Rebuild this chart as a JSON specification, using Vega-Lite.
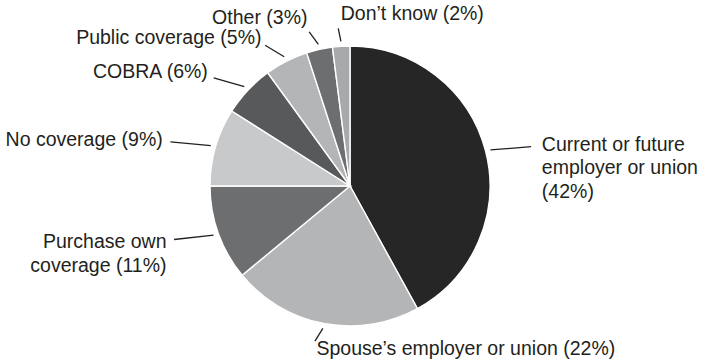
{
  "$schema": "https://vega.github.io/schema/vega-lite/v6.json",
  "width": 700,
  "height": 352,
  "autosize": {"type": "none"},
  "padding": {"left": 0, "top": 10, "right": 9, "bottom": 0},
  "background": "white",
  "config": {"view": {"stroke": null}},
  "data": {
    "values": [
      {"order": 1, "category": "Current or future employer or union", "label": "Current or future\nemployer or union\n(42%)", "pct": 42},
      {"order": 2, "category": "Spouse’s employer or union", "label": "Spouse’s employer or union (22%)", "pct": 22},
      {"order": 3, "category": "Purchase own coverage", "label": "Purchase own\ncoverage (11%)", "pct": 11},
      {"order": 4, "category": "No coverage", "label": "No coverage (9%)", "pct": 9},
      {"order": 5, "category": "COBRA", "label": "COBRA (6%)", "pct": 6},
      {"order": 6, "category": "Public coverage", "label": "Public coverage (5%)", "pct": 5},
      {"order": 7, "category": "Other", "label": "Other (3%)", "pct": 3},
      {"order": 8, "category": "Don’t know", "label": "Don’t know (2%)", "pct": 2}
    ]
  },
  "transform": [
    {"window": [{"op": "sum", "field": "pct", "as": "cum"}], "sort": [{"field": "order", "order": "ascending"}], "frame": [null, 0]},
    {"calculate": "datum.cum - datum.pct", "as": "a0"},
    {"calculate": "datum.cum - datum.pct / 2", "as": "mid"},
    {"calculate": "sin(datum.mid / 100 * 2 * PI)", "as": "s"},
    {"calculate": "cos(datum.mid / 100 * 2 * PI)", "as": "c"},
    {"calculate": "145 * datum.s", "as": "lx1"},
    {"calculate": "145 * datum.c", "as": "ly1"},
    {"calculate": "187 * datum.s", "as": "lx2"},
    {"calculate": "158 * datum.c", "as": "ly2"},
    {"calculate": "195 * datum.s", "as": "tx"},
    {"calculate": "166 * datum.c", "as": "ty"}
  ],
  "layer": [
    {
      "mark": {"type": "arc", "outerRadius": 140, "stroke": "white", "strokeWidth": 1.4},
      "encoding": {
        "theta": {"field": "a0", "type": "quantitative", "stack": null, "scale": {"domain": [0, 100], "range": [0, 6.283185307179586]}},
        "theta2": {"field": "cum"},
        "color": {
          "field": "category",
          "type": "nominal",
          "legend": null,
          "scale": {
            "domain": ["Current or future employer or union", "Spouse’s employer or union", "Purchase own coverage", "No coverage", "COBRA", "Public coverage", "Other", "Don’t know"],
            "range": ["#262626", "#b4b5b7", "#6d6e70", "#c8c9cb", "#58595b", "#b4b5b7", "#6d6e70", "#a7a9ac"]
          }
        }
      }
    },
    {
      "mark": {"type": "rule", "color": "#231f20", "strokeWidth": 1.3},
      "encoding": {
        "x": {"field": "lx1", "type": "quantitative", "axis": null, "scale": {"domain": [-350, 350], "nice": false, "zero": false}},
        "y": {"field": "ly1", "type": "quantitative", "axis": null, "scale": {"domain": [-176, 176], "nice": false, "zero": false}},
        "x2": {"field": "lx2"},
        "y2": {"field": "ly2"}
      }
    },
    {
      "transform": [{"filter": "datum.s > -0.2"}],
      "mark": {"type": "text", "align": "left", "dx": 3, "baseline": {"expr": "datum.c > 0.95 ? 'alphabetic' : 'middle'"}, "font": "Liberation Sans", "fontSize": 19.5, "lineHeight": 23.5, "lineBreak": "\n", "color": "#231f20"},
      "encoding": {
        "x": {"field": "tx", "type": "quantitative"},
        "y": {"field": "ty", "type": "quantitative"},
        "text": {"field": "label"}
      }
    },
    {
      "transform": [{"filter": "datum.s <= -0.2"}],
      "mark": {"type": "text", "align": "right", "baseline": {"expr": "datum.c > 0.95 ? 'alphabetic' : 'middle'"}, "font": "Liberation Sans", "fontSize": 19.5, "lineHeight": 23.5, "lineBreak": "\n", "color": "#231f20"},
      "encoding": {
        "x": {"field": "tx", "type": "quantitative"},
        "y": {"field": "ty", "type": "quantitative"},
        "text": {"field": "label"}
      }
    }
  ]
}
